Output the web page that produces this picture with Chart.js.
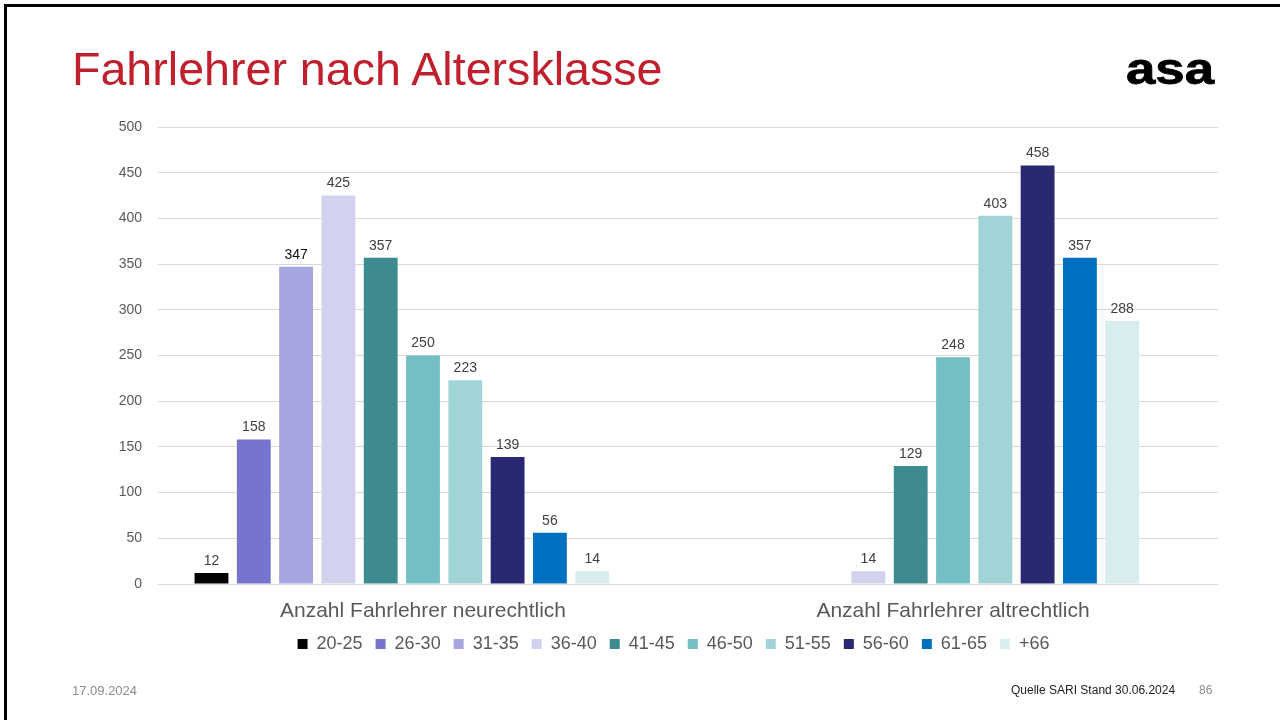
<!DOCTYPE html>
<html>
<head>
<meta charset="utf-8">
<script src="https://cdn.jsdelivr.net/npm/chart.js@4/dist/chart.umd.min.js"></script>
<style>
  html, body { margin:0; padding:0; background:#fff; width:1280px; height:720px; overflow:hidden; }
  #wrap { position:relative; width:1280px; height:720px; font-family:"Liberation Sans", Arial, sans-serif; }
  canvas { position:absolute; left:0; top:0; }
  .t { position:absolute; white-space:nowrap; line-height:1; }
  #title { left:72px; top:46px; font-size:46.6px; color:#C0202E; }
  #logo { left:1126px; top:47px; font-size:44px; font-weight:bold; color:#000; transform:scaleX(1.2); transform-origin:left top; -webkit-text-stroke:0.8px #000; }
  #date { left:72px; top:684px; font-size:13px; color:#8c8c8c; }
  #src { left:1011px; top:684px; font-size:12px; color:#222; }
  #page { left:1199px; top:684px; font-size:12px; color:#8c8c8c; }
  #frameTop { position:absolute; left:4px; top:4px; width:1276px; height:3px; background:#000; }
  #frameLeft { position:absolute; left:4px; top:4px; width:3px; height:716px; background:#000; }
</style>
</head>
<body>
<div id="wrap">
  <canvas id="c" width="1280" height="720"></canvas>
  <div id="frameTop"></div>
  <div id="frameLeft"></div>
  <div class="t" id="title">Fahrlehrer nach Altersklasse</div>
  <div class="t" id="logo">asa</div>
  <div class="t" id="date">17.09.2024</div>
  <div class="t" id="src">Quelle SARI Stand 30.06.2024</div>
  <div class="t" id="page">86</div>
</div>
<script>
const categories = ["Anzahl Fahrlehrer neurechtlich", "Anzahl Fahrlehrer altrechtlich"];
const ageClasses = ["20-25", "26-30", "31-35", "36-40", "41-45", "46-50", "51-55", "56-60", "61-65", "+66"];
const neurechtlich = [12, 158, 347, 425, 357, 250, 223, 139, 56, 14];
const altrechtlich = [null, null, null, 14, 129, 248, 403, 458, 357, 288];
const colors = ["#000000", "#7575CF", "#A5A5DF", "#D2D2EE", "#3E8B8F", "#73BFC4", "#A1D4D7", "#282873", "#0070C0", "#D9ECEE"];
const yTicks = [0, 50, 100, 150, 200, 250, 300, 350, 400, 450, 500];

const FONT = '"Liberation Sans", Arial, sans-serif';

const datasets = ageClasses.map((lab, i) => ({
  label: lab,
  data: [neurechtlich[i], altrechtlich[i]],
  backgroundColor: colors[i],
  borderWidth: 0
}));
// empty trailing slot (present in the original chart layout, not in legend)
datasets.push({ label: "", data: [null, null], backgroundColor: "rgba(0,0,0,0)", borderWidth: 0 });

const valueLabels = {
  id: 'valueLabels',
  afterDatasetsDraw(chart) {
    const ctx = chart.ctx;
    ctx.save();
    ctx.font = '14px ' + FONT;
    ctx.textAlign = 'center';
    ctx.textBaseline = 'bottom';
    chart.data.datasets.forEach((ds, di) => {
      const meta = chart.getDatasetMeta(di);
      meta.data.forEach((el, j) => {
        const v = ds.data[j];
        if (v === null || v === undefined) return;
        ctx.fillStyle = (di === 2 && j === 0) ? '#111111' : '#404040';
        ctx.fillText(String(v), el.x, el.y - 5);
      });
    });
    ctx.restore();
  }
};

// keep the legend centred on the same span as the original slide
const legendSpan = {
  id: 'legendSpan',
  afterLayout(chart) {
    if (chart.legend) { chart.legend.left = 129; chart.legend.width = chart.legend.right - 129; }
  }
};

new Chart(document.getElementById('c'), {
  type: 'bar',
  data: { labels: categories, datasets },
  options: {
    responsive: false,
    animation: false,
    devicePixelRatio: 1,
    layout: { padding: { left: 99, right: 62, top: 127, bottom: 57 } },
    datasets: { bar: { categoryPercentage: 0.878, barPercentage: 0.8 } },
    plugins: {
      title: { display: false },
      tooltip: { enabled: false },
      legend: {
        position: 'bottom',
        fullSize: true,
        labels: {
          boxWidth: 10, boxHeight: 10, padding: 13,
          color: '#595959',
          font: { size: 18, family: FONT },
          filter: (item) => item.text !== ""
        }
      }
    },
    scales: {
      x: {
        grid: { display: false, drawTicks: false },
        border: { display: false },
        ticks: { color: '#595959', font: { size: 21, family: FONT }, padding: 15, maxRotation: 0 },
        afterFit(s) { s.height = 38; }
      },
      y: {
        min: 0, max: 500,
        afterBuildTicks(s) { s.ticks = yTicks.map(v => ({ value: v })); },
        grid: { color: '#d9d9d9', lineWidth: 1, drawTicks: false },
        border: { display: false },
        ticks: { color: '#595959', font: { size: 14, family: FONT }, padding: 16 },
        afterFit(s) { s.width = 59; }
      }
    }
  },
  plugins: [valueLabels, legendSpan]
});
</script>
</body>
</html>
